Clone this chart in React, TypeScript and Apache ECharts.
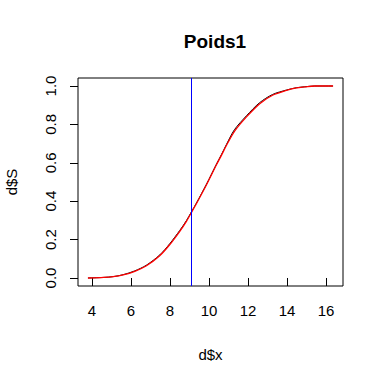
import React, { useEffect, useRef } from "react";
import * as echarts from "echarts";

const titleText = "Poids1";
const xName = "d$x";
const yName = "d$S";
const xTicks = [4, 6, 8, 10, 12, 14, 16];
const yTicks = [0, 0.2, 0.4, 0.6, 0.8, 1.0];
const vLineX = 9.08;

const xBlack = [3.79, 4.6, 5.08, 5.59, 6.19, 6.79, 7.47, 7.98, 8.5, 8.84, 9.1, 9.35, 9.87, 10.38, 10.64, 10.89, 11.3, 11.92, 12.58, 13.26, 13.97, 14.48, 14.91, 15.42, 16.36];
const sBlack = [0.0, 0.003, 0.007, 0.017, 0.037, 0.067, 0.12, 0.178, 0.248, 0.299, 0.345, 0.39, 0.489, 0.593, 0.644, 0.695, 0.772, 0.845, 0.912, 0.956, 0.979, 0.991, 0.996, 1.0, 1.0];
// smooth curve (red)
const xRed = [3.79, 4.6, 5.08, 5.59, 6.19, 6.79, 7.47, 7.98, 8.5, 8.84, 9.1, 9.35, 9.87, 10.38, 10.64, 10.89, 11.32, 11.92, 12.6, 13.28, 13.97, 14.48, 14.91, 15.42, 16.36];
const sRed = [0.0, 0.003, 0.007, 0.016, 0.035, 0.064, 0.116, 0.173, 0.243, 0.295, 0.342, 0.387, 0.486, 0.59, 0.64, 0.69, 0.766, 0.839, 0.908, 0.953, 0.977, 0.99, 0.995, 1.0, 1.0];

const FONT = "Liberation Sans, Arial, sans-serif";

export default function App() {
  const ref = useRef<HTMLDivElement>(null);
  useEffect(() => {
    if (!ref.current) return;
    const chart = echarts.init(ref.current, null, { renderer: "svg" });
    chart.setOption({
      animation: false,
      backgroundColor: "#ffffff",
      title: {
        text: titleText,
        left: 210,
        top: 27,
        textAlign: "center",
        textStyle: { fontFamily: FONT, fontSize: 19, fontWeight: "bold", color: "#000" },
      },
      grid: {
        left: 78,
        top: 78,
        width: 265,
        height: 208,
        containLabel: false,
        outerBoundsMode: "none",
        show: true,
        borderColor: "#000",
        borderWidth: 1,
        backgroundColor: "transparent",
      },
      xAxis: {
        type: "value",
        min: 3.28,
        max: 16.87,
        scale: true,
        name: xName,
        nameLocation: "middle",
        nameGap: 61,
        nameTextStyle: { fontFamily: FONT, fontSize: 15, color: "#000" },
        axisLine: { show: false },
        splitLine: { show: false },
        axisTick: { show: true, length: 8, customValues: xTicks, lineStyle: { color: "#000" } },
        axisLabel: {
          customValues: xTicks,
          margin: 17,
          fontFamily: FONT,
          fontSize: 15,
          color: "#000",
        },
      },
      yAxis: {
        type: "value",
        min: -0.0417,
        max: 1.0417,
        name: yName,
        nameLocation: "middle",
        nameGap: 59,
        nameRotate: 90,
        nameTextStyle: { fontFamily: FONT, fontSize: 15, color: "#000" },
        axisLine: { show: false },
        splitLine: { show: false },
        axisTick: { show: true, length: 8, customValues: yTicks, lineStyle: { color: "#000" } },
        axisLabel: {
          customValues: yTicks,
          rotate: 90,
          margin: 20,
          fontFamily: FONT,
          fontSize: 15,
          color: "#000",
          formatter: (v: number) => v.toFixed(1),
        },
      },
      series: [
        {
          type: "line",
          data: xBlack.map((x, i) => [x, sBlack[i]]),
          symbol: "none",
          smooth: 0.3,
          lineStyle: { color: "#000", width: 1 },
          silent: true,
          z: 2,
        },
        {
          type: "line",
          data: xRed.map((x, i) => [x, sRed[i]]),
          symbol: "none",
          smooth: 0.3,
          lineStyle: { color: "#ff0000", width: 1.3 },
          silent: true,
          z: 3,
          markLine: {
            silent: true,
            symbol: "none",
            label: { show: false },
            lineStyle: { color: "#0000ff", width: 1, type: "solid" },
            data: [{ xAxis: vLineX }],
          },
        },
      ],
    });
    return () => chart.dispose();
  }, []);
  return <div ref={ref} style={{ width: 384, height: 384, position: "absolute", left: 0, top: 0 }} />;
}
